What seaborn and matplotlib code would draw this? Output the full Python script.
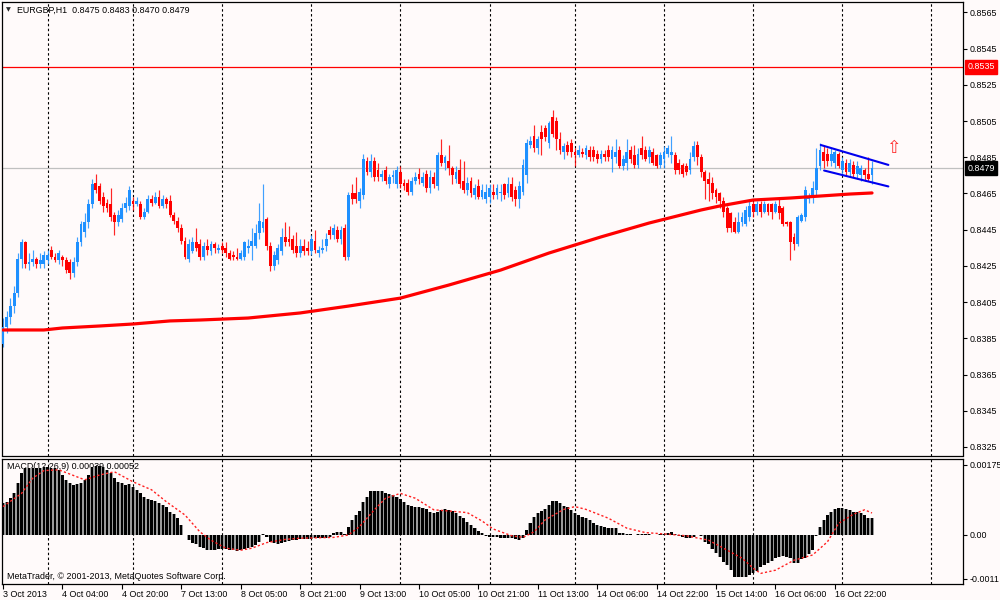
import numpy as np
import matplotlib
matplotlib.use("Agg")
import matplotlib.pyplot as plt
import seaborn as sns

# ---------------- data (EURGBP, H1) ----------------
opens = [
    .8382, .8391, .8397, .8403, .8410, .8429, .8438, .8426, .8427, .8429,
    .8426, .8426, .8428, .8434, .8430, .8428, .8430, .8428, .8427, .8421,
    .8427, .8438, .8444, .8449, .8459, .8471, .8469, .8463, .8460, .8459,
    .8453, .8449, .8451, .8457, .8458, .8461, .8459, .8459, .8452, .8455,
    .8462, .8460, .8463, .8458, .8462, .8461, .8453, .8450, .8446, .8439,
    .8429, .8433, .8438, .8437, .8430, .8436, .8433, .8437, .8434, .8436,
    .8435, .8432, .8431, .8430, .8429, .8430, .8435, .8436, .8436, .8443,
    .8446, .8451, .8436, .8425, .8428, .8433, .8441, .8440, .8440, .8436,
    .8432, .8436, .8435, .8433, .8439, .8432, .8434, .8436, .8445, .8442,
    .8445, .8440, .8446, .8430, .8465, .8465, .8461, .8464, .8483, .8477,
    .8483, .8478, .8474, .8478, .8470, .8474, .8470, .8477, .8471, .8471,
    .8466, .8472, .8476, .8471, .8476, .8468, .8474, .8469, .8486, .8482,
    .8483, .8479, .8473, .8478, .8472, .8467, .8472, .8464, .8469, .8463,
    .8462, .8463, .8466, .8464, .8465, .8470, .8465, .8470, .8467, .8462,
    .8466, .8475, .8492, .8497, .8490, .8499, .8501, .8493, .8507, .8505,
    .8495, .8488, .8492, .8493, .8488, .8486, .8488, .8486, .8489, .8489,
    .8487, .8484, .8487, .8489, .8484, .8485, .8489, .8480, .8482, .8489,
    .8486, .8481, .8490, .8489, .8485, .8488, .8486, .8481, .8484, .8487,
    .8486, .8486, .8482, .8481, .8480, .8478, .8485, .8492, .8485, .8477,
    .8473, .8471, .8467, .8465, .8461, .8457, .8454, .8449, .8444, .8449,
    .8448, .8452, .8459, .8455, .8459, .8455, .8459, .8459, .8455, .8458,
    .8457, .8449, .8449, .8441, .8437, .8450, .8452, .8462, .8463, .8467,
    .8480, .8488, .8487, .8483, .8482, .8487, .8478, .8482, .8477, .8481,
    .8476, .8475, .8478, .8476, .8475,
]
highs = [
    .8396, .8400, .8407, .8414, .8432, .8440, .8439, .8432, .8434, .8430,
    .8432, .8433, .8434, .8436, .8432, .8434, .8431, .8430, .8429, .8430,
    .8441, .8450, .8454, .8462, .8473, .8476, .8471, .8466, .8462, .8468,
    .8455, .8456, .8460, .8463, .8469, .8463, .8463, .8461, .8457, .8464,
    .8464, .8466, .8467, .8464, .8463, .8464, .8455, .8452, .8448, .8441,
    .8440, .8441, .8446, .8440, .8438, .8440, .8439, .8438, .8437, .8438,
    .8438, .8434, .8433, .8435, .8434, .8439, .8440, .8446, .8448, .8460,
    .8470, .8452, .8438, .8433, .8437, .8446, .8449, .8447, .8442, .8444,
    .8440, .8440, .8439, .8442, .8445, .8436, .8440, .8443, .8447, .8448,
    .8447, .8447, .8448, .8466, .8470, .8474, .8468, .8487, .8485, .8487,
    .8485, .8482, .8478, .8480, .8476, .8478, .8480, .8480, .8473, .8473,
    .8474, .8477, .8479, .8477, .8478, .8478, .8477, .8488, .8495, .8486,
    .8492, .8480, .8480, .8484, .8483, .8474, .8474, .8470, .8473, .8470,
    .8470, .8470, .8470, .8470, .8470, .8471, .8474, .8474, .8469, .8472,
    .8484, .8495, .8497, .8503, .8497, .8503, .8503, .8505, .8511, .8507,
    .8499, .8493, .8494, .8495, .8490, .8492, .8490, .8492, .8491, .8491,
    .8489, .8489, .8489, .8492, .8491, .8495, .8491, .8486, .8495, .8491,
    .8492, .8490, .8497, .8491, .8491, .8490, .8487, .8488, .8491, .8492,
    .8497, .8488, .8484, .8482, .8482, .8488, .8494, .8494, .8487, .8478,
    .8477, .8474, .8468, .8466, .8463, .8458, .8455, .8452, .8455, .8455,
    .8458, .8461, .8461, .8461, .8461, .8461, .8460, .8460, .8461, .8462,
    .8458, .8450, .8450, .8443, .8453, .8454, .8469, .8465, .8472, .8490,
    .8493, .8491, .8490, .8490, .8489, .8488, .8485, .8484, .8484, .8483,
    .8483, .8481, .8479, .8485, .8483,
]
lows = [
    .8380, .8388, .8393, .8399, .8408, .8424, .8424, .8423, .8425, .8424,
    .8424, .8424, .8426, .8429, .8427, .8426, .8425, .8421, .8418, .8419,
    .8425, .8436, .8441, .8446, .8457, .8465, .8459, .8455, .8455, .8450,
    .8442, .8447, .8449, .8455, .8456, .8456, .8458, .8451, .8451, .8454,
    .8458, .8459, .8457, .8457, .8457, .8452, .8448, .8444, .8437, .8429,
    .8427, .8432, .8433, .8428, .8428, .8431, .8431, .8432, .8432, .8432,
    .8430, .8428, .8428, .8428, .8428, .8428, .8432, .8428, .8435, .8440,
    .8444, .8434, .8422, .8423, .8426, .8431, .8436, .8436, .8432, .8430,
    .8430, .8431, .8431, .8431, .8432, .8430, .8432, .8433, .8440, .8440,
    .8438, .8437, .8428, .8428, .8459, .8460, .8457, .8462, .8475, .8474,
    .8472, .8472, .8472, .8470, .8468, .8471, .8468, .8468, .8467, .8464,
    .8464, .8470, .8470, .8469, .8466, .8465, .8468, .8467, .8480, .8478,
    .8475, .8470, .8471, .8468, .8465, .8464, .8463, .8462, .8462, .8462,
    .8460, .8460, .8462, .8462, .8461, .8462, .8463, .8461, .8458, .8457,
    .8464, .8471, .8490, .8488, .8487, .8486, .8494, .8490, .8496, .8489,
    .8487, .8484, .8486, .8485, .8480, .8485, .8485, .8484, .8483, .8483,
    .8482, .8482, .8483, .8483, .8477, .8482, .8479, .8478, .8478, .8482,
    .8479, .8479, .8484, .8483, .8482, .8481, .8479, .8479, .8479, .8485,
    .8482, .8476, .8476, .8474, .8475, .8476, .8483, .8481, .8474, .8462,
    .8461, .8462, .8460, .8457, .8452, .8444, .8444, .8443, .8443, .8447,
    .8447, .8450, .8452, .8453, .8452, .8454, .8453, .8451, .8454, .8451,
    .8447, .8447, .8428, .8434, .8436, .8449, .8450, .8460, .8460, .8464,
    .8478, .8479, .8480, .8480, .8479, .8479, .8476, .8475, .8474, .8474,
    .8473, .8472, .8472, .8472, .8470,
]
closes = [
    .8391, .8397, .8403, .8410, .8429, .8438, .8426, .8427, .8429, .8426,
    .8428, .8431, .8431, .8430, .8428, .8432, .8428, .8423, .8421, .8427,
    .8438, .8448, .8449, .8459, .8470, .8467, .8461, .8458, .8457, .8452,
    .8449, .8453, .8457, .8460, .8467, .8459, .8461, .8452, .8455, .8462,
    .8460, .8463, .8458, .8462, .8459, .8453, .8450, .8446, .8439, .8430,
    .8437, .8438, .8435, .8430, .8436, .8434, .8437, .8435, .8435, .8434,
    .8432, .8429, .8430, .8429, .8432, .8438, .8436, .8439, .8443, .8450,
    .8449, .8436, .8425, .8431, .8435, .8441, .8438, .8438, .8434, .8432,
    .8436, .8433, .8433, .8440, .8434, .8434, .8435, .8440, .8442, .8446,
    .8440, .8445, .8430, .8464, .8462, .8462, .8466, .8484, .8477, .8483,
    .8474, .8474, .8476, .8472, .8474, .8475, .8478, .8470, .8469, .8466,
    .8472, .8474, .8473, .8474, .8468, .8474, .8470, .8486, .8482, .8485,
    .8479, .8475, .8477, .8470, .8467, .8471, .8465, .8468, .8463, .8467,
    .8466, .8468, .8464, .8468, .8466, .8464, .8470, .8463, .8462, .8469,
    .8481, .8493, .8494, .8490, .8495, .8495, .8496, .8504, .8498, .8495,
    .8489, .8491, .8488, .8488, .8486, .8489, .8487, .8490, .8485, .8485,
    .8484, .8487, .8485, .8485, .8489, .8488, .8480, .8484, .8488, .8484,
    .8481, .8487, .8486, .8484, .8489, .8482, .8480, .8486, .8488, .8490,
    .8488, .8478, .8478, .8476, .8477, .8484, .8491, .8485, .8477, .8472,
    .8470, .8465, .8463, .8461, .8455, .8446, .8446, .8444, .8449, .8452,
    .8456, .8458, .8455, .8459, .8455, .8459, .8455, .8455, .8459, .8454,
    .8448, .8448, .8438, .8437, .8452, .8453, .8467, .8463, .8468, .8479,
    .8489, .8483, .8483, .8487, .8488, .8480, .8483, .8477, .8482, .8476,
    .8480, .8479, .8475, .8473, .8479,
]

# moving average (thick red) read at these bars
ma_bars = [0, 11, 16, 26, 35, 45, 53, 66, 80, 93, 107, 120, 134, 147, 161,
           174, 188, 193, 202, 212, 220, 228, 234]
ma_vals = [.83896, .83896, .83907, .83918, .83929, .83946, .83951, .83962,
           .83990, .84028, .84072, .84144, .84227, .84321, .84410, .84487,
           .84559, .84581, .84614, .84625, .84636, .84647, .84653]

# MACD histogram, in units of 1e-5
macd_hist_e5 = [
    79, 83, 92, 104, 129, 154, 167, 167, 167, 167,
    167, 171, 171, 167, 167, 163, 150, 138, 129, 125,
    127, 129, 138, 150, 171, 173, 173, 171, 163, 154,
    142, 133, 129, 125, 127, 121, 113, 104, 96, 89,
    88, 85, 81, 75, 69, 58, 52, 42, 25, 1,
    -13, -19, -23, -29, -33, -38, -38, -38, -36, -36,
    -36, -38, -38, -40, -38, -35, -33, -29, -25, -17,
    2, -4, -17, -21, -23, -21, -17, -14, -13, -13,
    -11, -11, -11, -11, -8, -8, -7, -8, -6, 6,
    8, 8, 3, 21, 38, 50, 60, 83, 96, 110,
    110, 110, 110, 106, 102, 100, 96, 89, 83, 75,
    73, 71, 69, 67, 64, 58, 54, 58, 63, 64,
    63, 60, 54, 48, 42, 33, 25, 17, 10, 4,
    -2, -4, -6, -6, -8, -8, -8, -8, -10, -13,
    -8, 13, 29, 46, 54, 60, 64, 75, 86, 86,
    79, 73, 69, 63, 56, 50, 46, 43, 38, 29,
    25, 23, 19, 17, 17, 17, 6, 4, 3, 3,
    1, 2, 3, 3, 2, 0, 0, 2, 3, 4,
    7, 3, -2, -6, -8, -8, -4, 0, -2, -17,
    -23, -36, -46, -54, -67, -75, -88, -104, -106, -106,
    -104, -100, -96, -89, -79, -75, -71, -64, -58, -54,
    -52, -54, -58, -71, -71, -61, -57, -48, -38, -2,
    21, 38, 50, 58, 64, 67, 67, 64, 63, 58,
    58, 56, 50, 43, 42,
]
# MACD signal line (dotted), in units of 1e-5
signal_bars = [0, 5, 8, 11, 15, 22, 26, 30, 35, 40, 44, 49, 53, 56, 60, 64,
               67, 71, 76, 80, 89, 93, 96, 100, 103, 107, 111, 116, 120, 125,
               129, 132, 137, 140, 143, 146, 151, 154, 157, 163, 168, 173,
               179, 184, 190, 195, 199, 202, 204, 208, 213, 218, 222, 225,
               229, 232, 234]
signal_e5 = [71, 104, 142, 161, 163, 138, 150, 158, 133, 113, 83, 50, 8, -13,
             -33, -38, -33, -19, -11, -8, -6, 0, 21, 63, 92, 104, 92, 63, 60,
             56, 35, 15, -2, -6, 8, 38, 64, 71, 64, 42, 17, 6, 2, -2, -13,
             -38, -58, -83, -96, -88, -63, -50, -17, 29, 52, 63, 55]

time_labels = ["3 Oct 2013", "4 Oct 04:00", "4 Oct 20:00", "7 Oct 13:00",
               "8 Oct 05:00", "8 Oct 21:00", "9 Oct 13:00", "10 Oct 05:00",
               "10 Oct 21:00", "11 Oct 13:00", "14 Oct 06:00", "14 Oct 22:00",
               "15 Oct 14:00", "16 Oct 06:00", "16 Oct 22:00"]
label_bars = [0, 16, 32, 48, 64, 80, 96, 112, 128, 144, 160, 176, 192, 208, 224]
grid_bars = [12, 35, 59, 83, 107, 131, 154, 178, 202, 226, 250]

price_ticks = [.8565, .8545, .8525, .8505, .8485, .8465, .8445, .8425,
               .8405, .8385, .8365, .8345, .8325]
resistance_level = 0.8535
bid_level = 0.8479
channel_upper_bars = [220.2, 238.4]
channel_upper = [0.84918, 0.84808]
channel_lower_bars = [221.1, 238.4]
channel_lower = [0.84777, 0.84689]
arrow_bar, arrow_price = 239.8, 0.8490
macd_ticks = [0.00175, 0.0, -0.0011]
macd_tick_labels = ["0.00175", "0.00", "-0.0011"]

assert len(opens) == len(highs) == len(lows) == len(closes) == len(macd_hist_e5)

# ---------------- style ----------------
BG = "#FFFAFA"
BULL = "#1E90FF"
BEAR = "#FF0000"
sns.set_theme(style="white")
plt.rcParams["font.family"] = ["Liberation Sans", "DejaVu Sans"]
FS = 6.4

fig = plt.figure(figsize=(10, 6), dpi=100, facecolor=BG)
ax = fig.add_axes([0.002, 1 - 455.5 / 600, 0.961, 453.5 / 600], facecolor=BG)
axm = fig.add_axes([0.002, 1 - 583.5 / 600, 0.961, 125 / 600], facecolor=BG)

xl = (-0.27, 258.5)
for a in (ax, axm):
    a.set_xlim(*xl)
    for s in a.spines.values():
        s.set_color("black")
        s.set_linewidth(0.9)
    for g in grid_bars:
        a.axvline(g, color="black", lw=0.8, ls=(0, (2.2, 2.2)), zorder=0.5)

# ---------------- main price panel ----------------
idx = np.arange(len(closes))
O = np.array(opens); H = np.array(highs); L = np.array(lows); C = np.array(closes)
cols = np.where(C >= O, BULL, BEAR)
ax.vlines(idx, L, H, colors=cols, lw=0.85, alpha=0.85, zorder=2)
body_bottom = np.minimum(O, C)
body_h = np.maximum(np.abs(C - O), 0.00004)
ax.bar(idx, body_h, bottom=body_bottom, width=0.76, color=cols, lw=0, zorder=3)

ax.axhline(resistance_level, color="#FF0000", lw=0.9, zorder=1)
ax.axhline(bid_level, color="#C0C0C0", lw=0.9, zorder=1)

sns.lineplot(x=ma_bars, y=ma_vals, ax=ax, color="#FF0000", lw=2.3,
             legend=False, zorder=4)

ax.plot(channel_upper_bars, channel_upper, color="#0000EE", lw=1.5, zorder=5)
ax.plot(channel_lower_bars, channel_lower, color="#0000EE", lw=1.5, zorder=5)
ax.text(arrow_bar, arrow_price, "\u21e7", color="#FF2A2A", fontsize=12.5,
        ha="center", va="center", family=["DejaVu Sans"], zorder=6)

ax.set_ylim(0.832025, 0.85708)
ax.yaxis.tick_right()
ax.set_yticks(price_ticks)
ax.set_yticklabels([f"{p:.4f}" for p in price_ticks])
ax.set_xticks([])
ax.tick_params(axis="y", right=True, length=3, width=0.8, pad=1.5,
               labelsize=FS, colors="black", direction="out")
ax.set_xlabel(""); ax.set_ylabel("")

tr = ax.get_yaxis_transform()
ax.text(1.0045, resistance_level, "0.8535", transform=tr, fontsize=FS,
        color="white", ha="left", va="center",
        bbox=dict(boxstyle="square,pad=0.28", fc="#FF0000", ec="#FF0000"),
        zorder=10, clip_on=False)
ax.text(1.0045, bid_level, "0.8479", transform=tr, fontsize=FS,
        color="white", ha="left", va="center",
        bbox=dict(boxstyle="square,pad=0.28", fc="black", ec="black"),
        zorder=10, clip_on=False)

fig.text(0.0055, 1 - 10 / 600, "\u25bc", fontsize=4.5, va="center",
         family=["DejaVu Sans"])
fig.text(0.017, 1 - 10 / 600, "EURGBP,H1  0.8475 0.8483 0.8470 0.8479",
         fontsize=FS, va="center", color="black")

# ---------------- MACD panel ----------------
hist = np.array(macd_hist_e5) * 1e-5
axm.bar(idx, hist, width=1.0, color="#9A9A9A", lw=0, zorder=2)
axm.bar(idx, hist, width=0.64, color="black", lw=0, zorder=3)
sns.lineplot(x=signal_bars, y=np.array(signal_e5) * 1e-5, ax=axm,
             color="#FF2020", lw=1.0, ls=(0, (1.6, 1.6)), legend=False,
             zorder=4)

axm.set_ylim(-0.0012125, 0.0019125)
axm.yaxis.tick_right()
axm.set_yticks(macd_ticks)
axm.set_yticklabels(macd_tick_labels)
axm.set_xticks(label_bars)
axm.set_xticklabels(time_labels)
for lbl in axm.get_xticklabels():
    lbl.set_horizontalalignment("left")
axm.tick_params(axis="y", right=True, length=3, width=0.8, pad=1.5,
                labelsize=FS, colors="black", direction="out")
axm.tick_params(axis="x", bottom=True, length=3.5, width=0.8, pad=1.0,
                labelsize=FS, colors="black", direction="out")
axm.set_xlabel(""); axm.set_ylabel("")

axm.text(0.0052, 0.934, "MACD(12,26,9) 0.00039 0.00052", transform=axm.transAxes,
         fontsize=FS, va="center", ha="left", color="black", zorder=1)
axm.text(0.0052, 0.054, "MetaTrader, \u00a9 2001-2013, MetaQuotes Software Corp.",
         transform=axm.transAxes, fontsize=FS, va="center", ha="left",
         color="black", zorder=6)

fig.savefig("out.png", dpi=100, facecolor=BG)
